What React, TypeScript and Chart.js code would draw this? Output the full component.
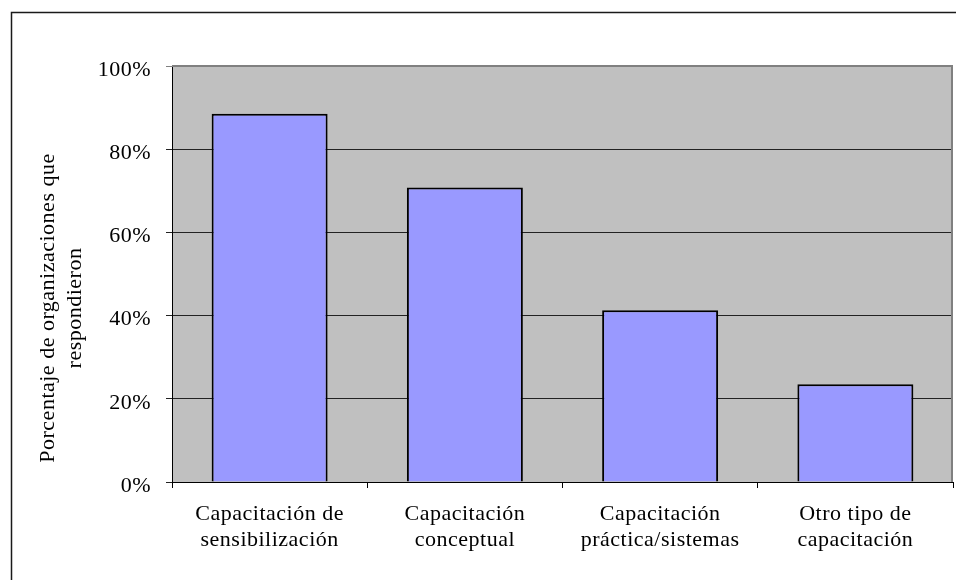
import React, { useEffect, useRef } from "react";
import { Chart, registerables } from "chart.js";

Chart.register(...registerables);

const categories: string[][] = [
  ["Capacitación de", "sensibilización"],
  ["Capacitación", "conceptual"],
  ["Capacitación", "práctica/sistemas"],
  ["Otro tipo de", "capacitación"],
];
const values: number[] = [88.5, 70.8, 41.3, 23.5];
const yTitleLines: string[] = ["Porcentaje de organizaciones que", "respondieron"];
const yMin = 0;
const yMax = 100;
const yStep = 20;

const FONT_FAMILY = "'Liberation Serif', 'Times New Roman', serif";
const FONT_SIZE = 22;
const LETTER_SPACING = "0.5px";

const setSpacing = (chart: any) => {
  try {
    (chart.ctx as any).letterSpacing = LETTER_SPACING;
  } catch (e) {}
};

const decorPlugin = {
  id: "decor",
  beforeUpdate(chart: any) {
    setSpacing(chart);
  },
  beforeLayout(chart: any) {
    setSpacing(chart);
  },
  beforeDraw(chart: any) {
    setSpacing(chart);
    const ctx = chart.ctx;
    const a = chart.chartArea;
    ctx.save();
    ctx.fillStyle = "#ffffff";
    ctx.fillRect(0, 0, chart.width, chart.height);
    // outer frame
    ctx.strokeStyle = "#1a1a1a";
    ctx.lineWidth = 1.5;
    ctx.strokeRect(11.5, 12.5, chart.width + 20, chart.height + 20);
    // plot background
    ctx.fillStyle = "#c0c0c0";
    ctx.fillRect(a.left, a.top, a.right - a.left, a.bottom - a.top);
    ctx.restore();
  },
  beforeDatasetsDraw(chart: any) {
    const ctx = chart.ctx;
    const a = chart.chartArea;
    ctx.save();
    ctx.strokeStyle = "#808080";
    ctx.lineWidth = 2;
    ctx.beginPath();
    ctx.moveTo(a.left, a.top);
    ctx.lineTo(a.right - 1, a.top);
    ctx.lineTo(a.right - 1, a.bottom);
    ctx.stroke();
    ctx.restore();
  },
  afterDraw(chart: any) {
    const ctx = chart.ctx;
    ctx.save();
    setSpacing(chart);
    ctx.fillStyle = "#000";
    ctx.font = `${FONT_SIZE}px ${FONT_FAMILY}`;
    ctx.textAlign = "center";
    ctx.textBaseline = "alphabetic";
    ctx.translate(54, 308);
    ctx.rotate(-Math.PI / 2);
    yTitleLines.forEach((line, i) => {
      ctx.fillText(line, 0, i * 27);
    });
    ctx.restore();
  },
};

export default function App() {
  const ref = useRef<HTMLCanvasElement | null>(null);

  useEffect(() => {
    if (!ref.current) return;
    const chart = new Chart(ref.current, {
      type: "bar",
      data: {
        labels: categories,
        datasets: [
          {
            data: values,
            backgroundColor: "#9999ff",
            borderColor: "#000000",
            borderWidth: 2,
            categoryPercentage: 1,
            barPercentage: 0.594,
          },
        ],
      },
      options: {
        animation: false,
        responsive: false,
        devicePixelRatio: 1,
        layout: { padding: { left: 0, right: 3, top: 66, bottom: 0 } },
        plugins: {
          legend: { display: false },
          tooltip: { enabled: false },
          title: { display: false },
        },
        scales: {
          x: {
            afterFit(scale: any) {
              scale.height = 98;
            },
            grid: {
              display: true,
              drawOnChartArea: false,
              drawTicks: true,
              tickLength: 6,
              color: "#000",
              offset: true,
            },
            border: { display: true, color: "#000", width: 1 },
            ticks: {
              color: "#000",
              font: { family: FONT_FAMILY, size: FONT_SIZE, lineHeight: 26 / FONT_SIZE },
              padding: 13,
              maxRotation: 0,
              minRotation: 0,
              autoSkip: false,
            },
          },
          y: {
            min: yMin,
            max: yMax,
            afterFit(scale: any) {
              scale.width = 172;
            },
            grid: {
              drawTicks: true,
              tickLength: 6,
              color: (c: any) => (c.tick && c.tick.value === yMax ? "#808080" : "#222222"),
              lineWidth: 1,
            },
            border: { display: true, color: "#000", width: 1 },
            ticks: {
              stepSize: yStep,
              color: "#000",
              font: { family: FONT_FAMILY, size: FONT_SIZE },
              padding: 15,
              labelOffset: 4,
              callback: (v: any) => `${v}%`,
            },
          },
        },
      },
      plugins: [decorPlugin],
    });
    return () => chart.destroy();
  }, []);

  return (
    <div style={{ position: "absolute", left: 0, top: 0, width: 956, height: 580, background: "#fff" }}>
      <canvas ref={ref} width={956} height={580} style={{ display: "block" }} />
    </div>
  );
}
